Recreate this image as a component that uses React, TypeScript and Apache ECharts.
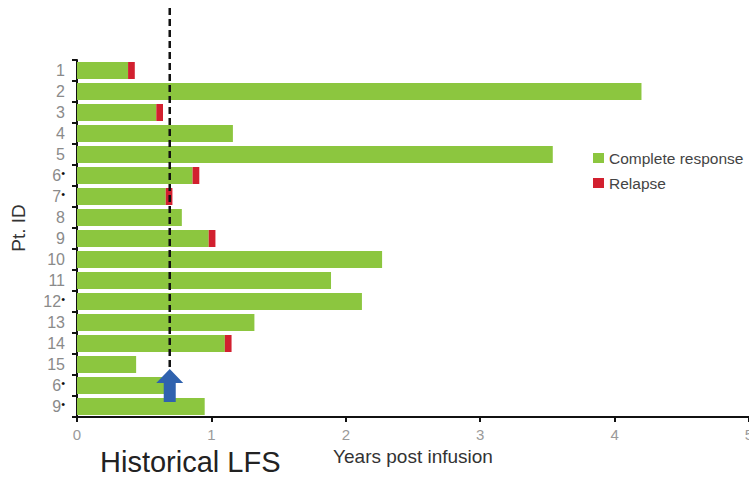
import React, { useEffect, useRef } from "react";
import * as echarts from "echarts";

const categories = ["1", "2", "3", "4", "5", "6*", "7*", "8", "9", "10", "11", "12*", "13", "14", "15", "6*", "9*"];
const responseYears = [0.38, 4.2, 0.59, 1.16, 3.54, 0.86, 0.66, 0.78, 0.98, 2.27, 1.89, 2.12, 1.32, 1.1, 0.44, 0.65, 0.95];
const relapseYears = [0.05, null, 0.05, null, null, 0.05, 0.05, null, 0.05, null, null, null, null, 0.05, null, null, null];
const historicalLFS = 0.69;
const xMin = 0;
const xMax = 5;
const xInterval = 1;

const FONT = "'Liberation Sans', Arial, Helvetica, sans-serif";
const GREEN = "#8CC63F";
const RED = "#D2202F";
const BLUE = "#2F62AE";

export default function App() {
  const ref = useRef<HTMLDivElement>(null);

  useEffect(() => {
    if (!ref.current) return;
    const chart = echarts.init(ref.current, undefined, { renderer: "svg" });
    const option: any = {
      animation: false,
      textStyle: { fontFamily: FONT },
      grid: { left: 77, right: 0, top: 60, bottom: 60, containLabel: false, outerBoundsMode: "none" },
      legend: {
        orient: "vertical",
        left: 593,
        top: 150,
        padding: 0,
        itemWidth: 11,
        itemHeight: 10,
        itemGap: 9,
        icon: "rect",
        textStyle: { fontSize: 15.5, color: "#444", fontFamily: FONT },
        data: ["Complete response", "Relapse"],
      },
      xAxis: {
        type: "value",
        min: xMin,
        max: xMax,
        interval: xInterval,
        name: "Years post infusion",
        nameLocation: "middle",
        nameGap: 30,
        nameTextStyle: { fontSize: 19, color: "#333", fontFamily: FONT },
        axisLine: { show: true, lineStyle: { color: "#111", width: 2 } },
        axisTick: { show: true, length: 5, lineStyle: { color: "#111", width: 2 } },
        axisLabel: { color: "#9a9a9a", fontSize: 15, margin: 10, fontFamily: FONT },
        splitLine: { show: false },
      },
      yAxis: {
        type: "category",
        inverse: true,
        data: categories,
        axisLine: { show: true, lineStyle: { color: "#111", width: 2 } },
        axisTick: { show: true, length: 5, lineStyle: { color: "#111", width: 2 } },
        axisLabel: {
          margin: 12,
          formatter: (v: string) =>
            v.endsWith("*") ? `{n|${v.slice(0, -1)}}{s|•}` : `{n|${v}}`,
          rich: {
            n: { fontSize: 16, color: "#8a8a8a", lineHeight: 16, fontFamily: FONT },
            s: { fontSize: 11, color: "#111", lineHeight: 10, verticalAlign: "top", fontFamily: FONT },
          },
        },
        splitLine: { show: false },
      },
      series: [
        {
          name: "Complete response",
          type: "bar",
          stack: "pt",
          barWidth: 17,
          itemStyle: { color: GREEN },
          data: responseYears,
        },
        {
          name: "Relapse",
          type: "bar",
          stack: "pt",
          barWidth: 17,
          itemStyle: { color: RED },
          data: relapseYears,
        },
      ],
    };
    chart.setOption(option);

    const x = chart.convertToPixel({ xAxisIndex: 0 }, historicalLFS) as number;
    chart.setOption({
      graphic: [
        {
          type: "line",
          shape: { x1: x, y1: 8, x2: x, y2: 368 },
          style: { stroke: "#111", lineWidth: 2.5, lineDash: [7, 4] },
          z: 100,
        },
        {
          type: "polygon",
          shape: {
            points: [
              [x, 369],
              [x + 13.5, 383],
              [x + 6, 383],
              [x + 6, 402],
              [x - 6, 402],
              [x - 6, 383],
              [x - 13.5, 383],
            ],
          },
          style: { fill: BLUE },
          z: 101,
        },
        {
          type: "text",
          x: 100,
          y: 462,
          style: {
            text: "Historical LFS",
            fontSize: 29,
            fill: "#222",
            fontFamily: FONT,
            align: "left",
            verticalAlign: "middle",
          },
        },
        {
          type: "text",
          x: 18,
          y: 228,
          rotation: Math.PI / 2,
          style: {
            text: "Pt. ID",
            fontSize: 19,
            fill: "#333",
            fontFamily: FONT,
            align: "center",
            verticalAlign: "middle",
          },
        },
      ],
    });

    return () => chart.dispose();
  }, []);

  return (
    <div
      ref={ref}
      style={{ position: "absolute", left: 0, top: 0, width: 749, height: 477, background: "#fff" }}
    />
  );
}
